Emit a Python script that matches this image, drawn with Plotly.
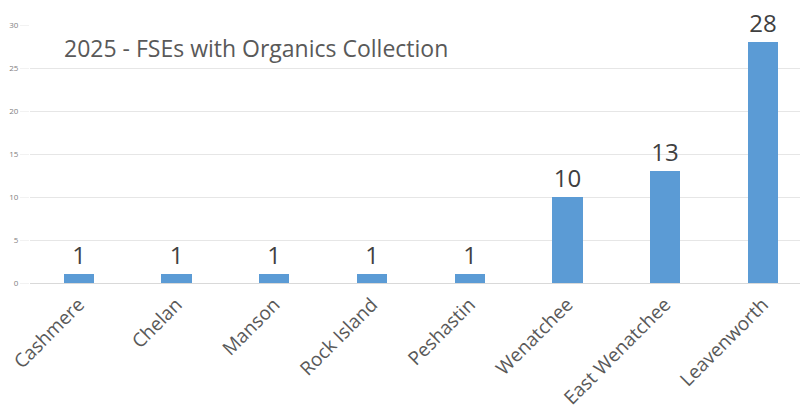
import plotly.graph_objects as go

categories = ["Cashmere", "Chelan", "Manson", "Rock Island", "Peshastin",
              "Wenatchee", "East Wenatchee", "Leavenworth"]
values = [1, 1, 1, 1, 1, 10, 13, 28]
y_ticks = [0, 5, 10, 15, 20, 25, 30]
title_text = "2025 - FSEs with Organics Collection"

fig = go.Figure(go.Bar(
    x=list(range(len(categories))), y=values,
    marker=dict(color="#5B9BD5", line=dict(width=0)),
    width=0.31,
    text=[str(v) for v in values], textposition="outside",
    textfont=dict(family="Open Sans", size=24, color="#404040"),
    cliponaxis=False,
))

fig.update_layout(
    width=800, height=413,
    margin=dict(l=30, r=0, t=25, b=130, autoexpand=False),
    paper_bgcolor="white", plot_bgcolor="white",
    showlegend=False,
    bargap=0,
    xaxis=dict(
        range=[-0.5, 7.38], automargin=False,
        tickmode="array", tickvals=list(range(len(categories))), ticktext=categories,
        tickangle=-45, showgrid=False, zeroline=False,
        showline=True, linecolor="#d9d9d9", linewidth=1,
        tickfont=dict(family="Open Sans", size=19, color="#595959"),
        ticks="", ticklabelstandoff=2,
    ),
    yaxis=dict(
        range=[0, 30], tickvals=y_ticks, automargin=False,
        showgrid=True, gridcolor="#e6e6e6", gridwidth=1,
        zeroline=False, showline=False,
        tickfont=dict(family="Open Sans", size=8, color="#7f7f7f"),
        ticks="outside", ticklen=9, tickcolor="#f2f2f2",
    ),
    annotations=[dict(
        text=title_text, xref="paper", yref="paper", x=0.042, y=0.911,
        xanchor="left", yanchor="middle", showarrow=False,
        font=dict(family="Open Sans", size=23, color="#595959"),
    )],
)

fig.write_html("out.html")
